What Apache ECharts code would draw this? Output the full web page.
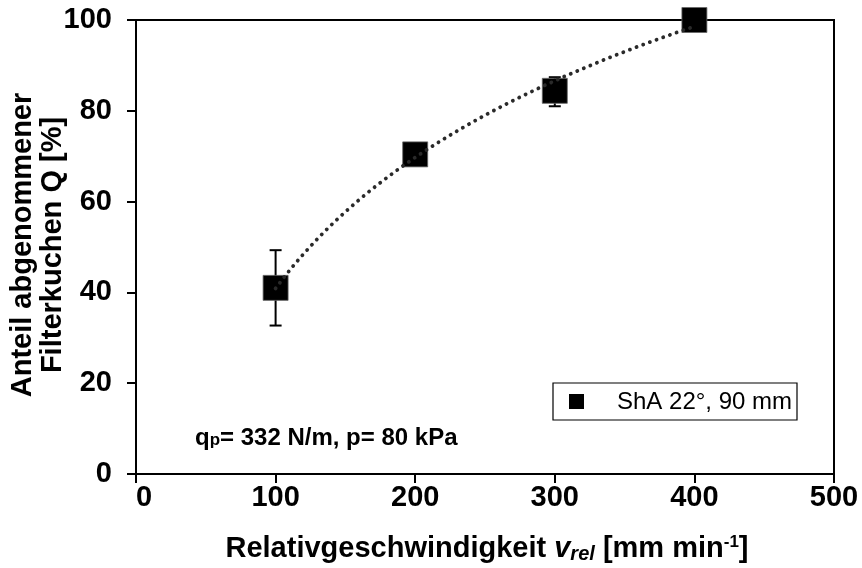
<!DOCTYPE html>
<html>
<head>
<meta charset="utf-8">
<script src="https://cdn.jsdelivr.net/npm/echarts@6/dist/echarts.min.js"></script>
<style>
  html, body { margin: 0; padding: 0; background: #fff; }
  #chart { width: 862px; height: 568px; }
</style>
</head>
<body>
<div id="chart"></div>
<script>
// Relative speed (mm/min) and share of removed filter cake (%)
const speeds = [100, 200, 300, 400];
const shareQ = [41.0, 70.4, 84.4, 100.0];
const errLow = [32.7, 70.4, 81.0, 100.0];
const errHigh = [49.3, 70.4, 87.4, 100.0];
const xTicks = [0, 100, 200, 300, 400, 500];
const yTicks = [0, 20, 40, 60, 80, 100];
const seriesName = 'ShA 22°, 90 mm';

// Logarithmic least-squares trend line through the measured points
const lx = speeds.map(Math.log);
const mx = lx.reduce((a, b) => a + b, 0) / lx.length;
const my = shareQ.reduce((a, b) => a + b, 0) / shareQ.length;
let sxy = 0, sxx = 0;
lx.forEach((v, i) => { sxy += (v - mx) * (shareQ[i] - my); sxx += (v - mx) * (v - mx); });
const slope = sxy / sxx;
const icpt = my - slope * mx;
const trend = [];
for (let x = speeds[0]; x <= speeds[speeds.length - 1]; x += 2) {
  trend.push([x, icpt + slope * Math.log(x)]);
}

const font = 'Liberation Sans, Arial, sans-serif';
const chart = echarts.init(document.getElementById('chart'));

chart.setOption({
  animation: false,
  grid: { left: 136, top: 20, right: 28, bottom: 94, show: true, borderColor: '#000', borderWidth: 2, backgroundColor: 'transparent' },
  xAxis: {
    type: 'value', min: 0, max: 500, interval: 100,
    axisLine: { show: true, onZero: false, lineStyle: { color: '#000', width: 2 } },
    axisTick: { show: true, length: 9, lineStyle: { color: '#000', width: 2 } },
    splitLine: { show: false },
    axisLabel: { color: '#000', fontFamily: font, fontWeight: 'bold', fontSize: 29, margin: 9,
      formatter: v => !xTicks.includes(v) ? '' : (v === 0 ? '{z|0}' : String(v)),
      rich: { z: { fontFamily: font, fontWeight: 'bold', fontSize: 29, color: '#000', padding: [0, 0, 0, 16] } } }
  },
  yAxis: {
    type: 'value', min: 0, max: 100, interval: 20,
    axisLine: { show: true, onZero: false, lineStyle: { color: '#000', width: 2 } },
    axisTick: { show: true, length: 9, lineStyle: { color: '#000', width: 2 } },
    splitLine: { show: false },
    axisLabel: { color: '#000', fontFamily: font, fontWeight: 'bold', fontSize: 29, margin: 24,
      formatter: v => yTicks.includes(v) ? String(v) : '' }
  },
  series: [
    {
      type: 'custom', z: 3, silent: true,
      data: speeds.map((x, i) => [x, errLow[i], errHigh[i]]),
      renderItem: (params, api) => {
        const lo = api.coord([api.value(0), api.value(1)]);
        const hi = api.coord([api.value(0), api.value(2)]);
        const w = 6;
        const st = { stroke: '#000', lineWidth: 2 };
        return { type: 'group', children: [
          { type: 'line', shape: { x1: lo[0], y1: lo[1], x2: hi[0], y2: hi[1] }, style: st },
          { type: 'line', shape: { x1: lo[0] - w, y1: lo[1], x2: lo[0] + w, y2: lo[1] }, style: st },
          { type: 'line', shape: { x1: hi[0] - w, y1: hi[1], x2: hi[0] + w, y2: hi[1] }, style: st }
        ] };
      }
    },
    {
      name: seriesName, type: 'scatter', z: 4,
      data: speeds.map((x, i) => [x, shareQ[i]]),
      symbol: 'rect', symbolSize: 25,
      itemStyle: { color: '#000', opacity: 1, borderColor: '#666', borderWidth: 0.8 }
    },
    {
      type: 'line', data: trend, showSymbol: false, silent: true, z: 5,
      lineStyle: { color: '#2a2a2a', width: 3.8, type: [0.1, 7], cap: 'round' }
    }
  ],
  graphic: [
    // Y axis title (two lines, rotated)
    { type: 'text', x: 23, y: 245, rotation: Math.PI / 2,
      style: { text: 'Anteil abgenommener', font: 'bold 29px ' + font, fill: '#000', align: 'center', verticalAlign: 'middle' } },
    { type: 'text', x: 53, y: 245, rotation: Math.PI / 2,
      style: { text: 'Filterkuchen Q [%]', font: 'bold 29px ' + font, fill: '#000', align: 'center', verticalAlign: 'middle' } },
    // X axis title with italic subscript and superscript
    { type: 'text', x: 487, y: 549,
      style: {
        text: '{b|Relativgeschwindigkeit }{i|v}{s|rel}{b| [mm min}{p|-1}{b|]}',
        align: 'center', verticalAlign: 'middle',
        rich: {
          b: { font: 'bold 29px ' + font, fill: '#000' },
          i: { font: 'italic bold 29px ' + font, fill: '#000' },
          s: { font: 'italic bold 20px ' + font, fill: '#000', verticalAlign: 'bottom', padding: [10, 0, 0, 0] },
          p: { font: 'bold 17px ' + font, fill: '#000', verticalAlign: 'top', padding: [0, 0, 12, 0] }
        }
      } },
    // Operating conditions
    { type: 'text', x: 195, y: 438,
      style: {
        text: '{b|q}{s|p}{b|= 332 N/m, p= 80 kPa}',
        verticalAlign: 'middle',
        rich: {
          b: { font: 'bold 24px ' + font, fill: '#000' },
          s: { font: 'bold 17px ' + font, fill: '#000', padding: [5, 0, 0, 0] }
        }
      } },
    // Legend box
    { type: 'rect', shape: { x: 553, y: 383, width: 244, height: 37 },
      style: { fill: '#fff', stroke: '#000', lineWidth: 1.2 } },
    { type: 'rect', shape: { x: 569, y: 394, width: 15, height: 15 },
      style: { fill: '#000' } },
    { type: 'text', x: 617, y: 402,
      style: { text: seriesName, font: '24px ' + font, fill: '#000', verticalAlign: 'middle' } }
  ]
});
</script>
</body>
</html>
